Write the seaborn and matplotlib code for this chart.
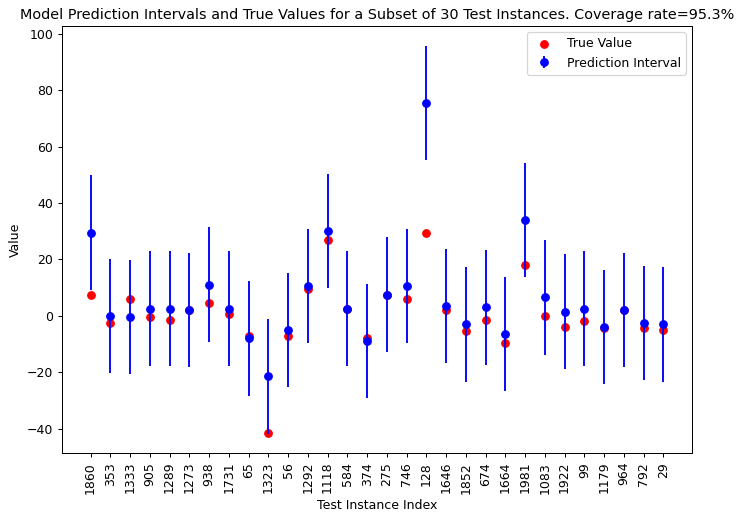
import numpy as np
import pandas as pd
import matplotlib
matplotlib.use("Agg")
import matplotlib.pyplot as plt
import seaborn as sns

# Данные
test_index = ['1860', '353', '1333', '905', '1289', '1273', '938', '1731', '65', '1323',
              '56', '1292', '1118', '584', '374', '275', '746', '128', '1646', '1852',
              '674', '1664', '1981', '1083', '1922', '99', '1179', '964', '792', '29']
true_values = [7.5, -2.5, 6, -0.5, -1.5, 2, 4.5, 0.5, -7, -41.5,
               -7, 9.5, 27, 2.5, -8, 7.5, 6, 29.5, 2, -5.5,
               -1.5, -9.5, 18, 0, -4, -2, -4.5, 2, -4.5, -5]
predictions = [29.5, 0, -0.5, 2.5, 2.5, 2, 11, 2.5, -8, -21.5,
               -5, 10.5, 30, 2.5, -9, 7.5, 10.5, 75.5, 3.5, -3,
               3, -6.5, 34, 6.5, 1.5, 2.5, -4, 2, -2.5, -3]
half_width = [20.3] * 30
coverage_rate = 95.3

df = pd.DataFrame({'pos': np.arange(len(test_index)), 'true': true_values,
                   'pred': predictions, 'err': half_width})

dpi = 90
fig, ax = plt.subplots(figsize=(742 / dpi, 512 / dpi), dpi=dpi)
fig.subplots_adjust(left=0.0836, right=0.9326, top=0.949, bottom=0.115)

sns.scatterplot(data=df, x='pos', y='true', color='red', s=36, edgecolor='red',
                linewidth=1, label='True Value', ax=ax)
ax.errorbar(df['pos'], df['pred'], yerr=df['err'], fmt='o', color='blue',
            markersize=6, label='Prediction Interval')

ax.set_xticks(df['pos'])
ax.set_xticklabels(test_index, rotation=90)
ax.set_title(f'Model Prediction Intervals and True Values for a Subset of 30 Test Instances. Coverage rate={coverage_rate}%',
             fontsize=11.5)
ax.set_xlabel('Test Instance Index')
ax.set_ylabel('Value')
ax.legend(loc='upper right')

plt.savefig('out.png', dpi=dpi)
